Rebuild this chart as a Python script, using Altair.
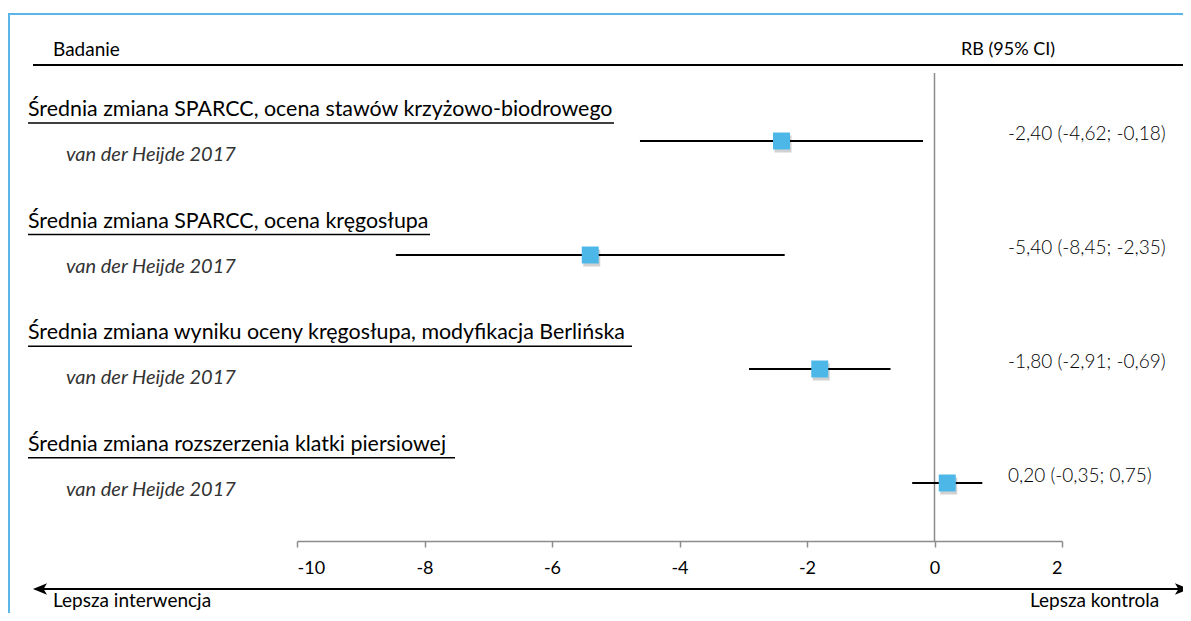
import altair as alt
import pandas as pd

# ---- data ----
outcomes = [
    "Średnia zmiana SPARCC, ocena stawów krzyżowo-biodrowego",
    "Średnia zmiana SPARCC, ocena kręgosłupa",
    "Średnia zmiana wyniku oceny kręgosłupa, modyfikacja Berlińska",
    "Średnia zmiana rozszerzenia klatki piersiowej",
]
studies = ["van der Heijde 2017"] * 4
rb = [-2.40, -5.40, -1.80, 0.20]
ci_lo = [-4.62, -8.45, -2.91, -0.35]
ci_hi = [-0.18, -2.35, -0.69, 0.75]
x_ticks = [-10, -8, -6, -4, -2, 0, 2]
header_left = "Badanie"
header_right = "RB (95% CI)"
arrow_left = "Lepsza interwencja"
arrow_right = "Lepsza kontrola"


def fmt(v):
    return f"{v:.2f}".replace(".", ",")


labels = [f"{fmt(m)} ({fmt(l)}; {fmt(h)})" for m, l, h in zip(rb, ci_lo, ci_hi)]

df = pd.DataFrame({
    "i": list(range(len(outcomes))),
    "outcome": outcomes,
    "study": studies,
    "rb": rb,
    "lo": ci_lo,
    "hi": ci_hi,
    "label": labels,
})
one = pd.DataFrame({"z": [0]})

FONT = "Lato"
W, H = 765, 468
BLUE = "#4DB8E8"
GRAY = "#8c8c8c"

x_scale = alt.Scale(domain=[-10, 2], nice=False, zero=False)
x_axis = alt.Axis(values=x_ticks, title=None, grid=False, domainColor=GRAY,
                  domainWidth=1.5, tickColor=GRAY, tickWidth=1.5, tickSize=6,
                  labelPadding=12, labelFontSize=18, labelFont=FONT,
                  labelColor="#000", labelExpr="datum.value + ''")
pt_scale = alt.Scale(domain=[-0.5965, 3.5088], reverse=True, nice=False, zero=False)
lab_scale = alt.Scale(domain=[-0.3047, 3.889], reverse=True, nice=False, zero=False)

base = alt.Chart(df)
single = alt.Chart(one)

frame_top = single.mark_rule(color="#5BB5E6", strokeWidth=2).encode(
    x=alt.value(-289), x2=alt.value(900), y=alt.value(-59))
frame_left = single.mark_rule(color="#5BB5E6", strokeWidth=2).encode(
    x=alt.value(-288), y=alt.value(-59), y2=alt.value(620))
header_rule = single.mark_rule(color="#000", strokeWidth=2).encode(
    x=alt.value(-264), x2=alt.value(900), y=alt.value(-8))
h_left = single.mark_text(align="left", baseline="middle", font=FONT, fontSize=19,
                          color="#000").encode(
    x=alt.value(-244), y=alt.value(-23), text=alt.value(header_left))
h_right = single.mark_text(align="center", baseline="middle", font=FONT, fontSize=18,
                           color="#000").encode(
    x=alt.value(711), y=alt.value(-23), text=alt.value(header_right))

zero_rule = single.mark_rule(color=GRAY, strokeWidth=1.5).encode(
    x=alt.X("z:Q", scale=x_scale, axis=x_axis), y=alt.value(0), y2=alt.value(H))

ci = base.mark_rule(color="#000", strokeWidth=2).encode(
    x=alt.X("lo:Q", scale=x_scale, axis=x_axis), x2="hi:Q",
    y=alt.Y("i:Q", scale=pt_scale, axis=None))
shadow = base.mark_square(size=289, color="#000", opacity=0.18, xOffset=1.5,
                          yOffset=3).encode(
    x=alt.X("rb:Q", scale=x_scale, axis=x_axis),
    y=alt.Y("i:Q", scale=pt_scale, axis=None))
squares = base.mark_square(size=289, color=BLUE, opacity=1).encode(
    x=alt.X("rb:Q", scale=x_scale, axis=x_axis),
    y=alt.Y("i:Q", scale=pt_scale, axis=None))
values = base.mark_text(align="left", baseline="middle", font=FONT, fontSize=19,
                        fontWeight=300, color="#000", dy=-7).encode(
    x=alt.value(711), y=alt.Y("i:Q", scale=pt_scale, axis=None), text="label:N")

headings = base.mark_text(align="left", baseline="middle", font=FONT, fontSize=21.4,
                          color="#000", dy=3).encode(
    x=alt.value(-269), y=alt.Y("i:Q", scale=lab_scale, axis=None), text="outcome:N")
study_txt = base.mark_text(align="left", baseline="middle", font=FONT, fontSize=20,
                           fontStyle="italic", color="#333", dy=48).encode(
    x=alt.value(-231), y=alt.Y("i:Q", scale=lab_scale, axis=None), text="study:N")

underline_ends = [317, 133, 335, 158]
underlines = []
for k, end in enumerate(underline_ends):
    underlines.append(
        base.transform_filter(alt.datum.i == k).mark_rule(
            color="#000", strokeWidth=1.5, yOffset=16).encode(
            x=alt.value(-269), x2=alt.value(end),
            y=alt.Y("i:Q", scale=lab_scale, axis=None)))

arrow_line = single.mark_rule(color="#000", strokeWidth=2).encode(
    x=alt.value(-260), x2=alt.value(888), y=alt.value(516))
head_l = single.mark_point(shape="M -1 0 L 1 -0.8 L 0.5 0 L 1 0.8 Z", size=200,
                           filled=True, color="#000", opacity=1).encode(
    x=alt.value(-257), y=alt.value(516))
head_r = single.mark_point(shape="M 1 0 L -1 -0.8 L -0.5 0 L -1 0.8 Z", size=200,
                           filled=True, color="#000", opacity=1).encode(
    x=alt.value(885), y=alt.value(516))
lab_l = single.mark_text(align="left", baseline="alphabetic", font=FONT, fontSize=19,
                         color="#000").encode(
    x=alt.value(-244), y=alt.value(534), text=alt.value(arrow_left))
lab_r = single.mark_text(align="left", baseline="alphabetic", font=FONT, fontSize=19,
                         color="#000").encode(
    x=alt.value(733), y=alt.value(534), text=alt.value(arrow_right))

chart = alt.layer(
    frame_top, frame_left, header_rule, h_left, h_right, zero_rule, ci, shadow,
    squares, values, headings, study_txt, *underlines, arrow_line, head_l, head_r,
    lab_l, lab_r,
).resolve_scale(y="independent").properties(
    width=W, height=H,
    padding={"left": 289, "top": 65, "right": 121, "bottom": 72},
    autosize=alt.AutoSizeParams(type="none"),
    background="#ffffff",
).configure_view(stroke=None)

chart.save("out.html", embed_options={"renderer": "svg", "actions": False})
